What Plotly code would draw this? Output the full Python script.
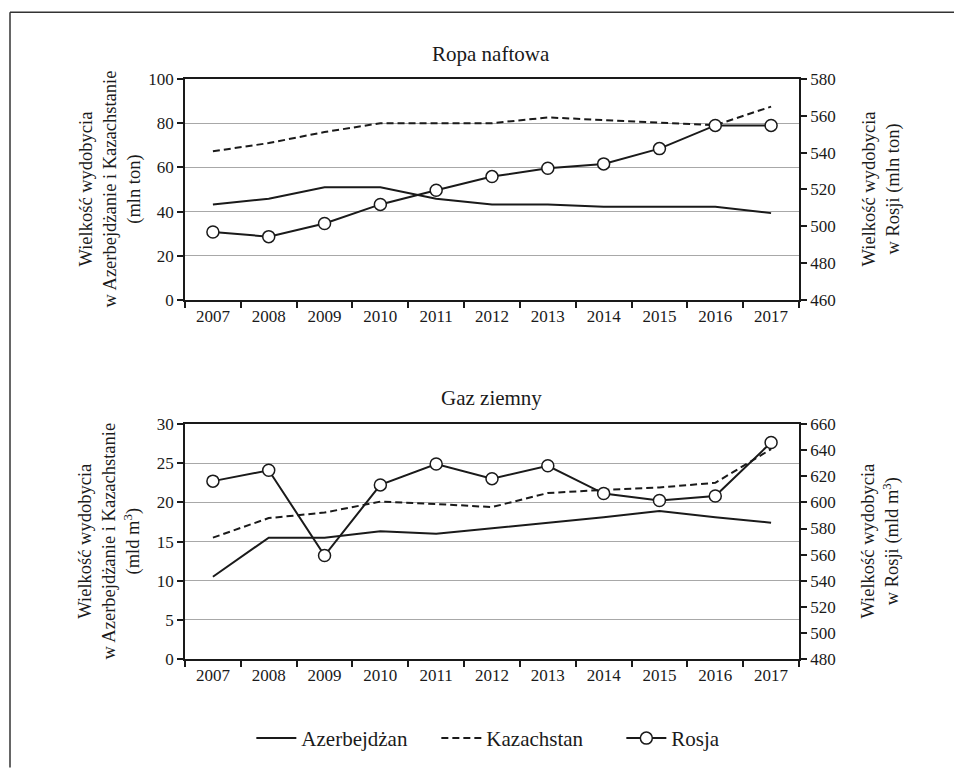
import plotly.graph_objects as go

years = ["2007", "2008", "2009", "2010", "2011", "2012", "2013", "2014", "2015", "2016", "2017"]

# Ropa naftowa (mln ton)
oil_aze = [43.2, 45.8, 51.0, 51.0, 45.8, 43.2, 43.2, 42.2, 42.2, 42.2, 39.3]
oil_kaz = [67.3, 71.0, 76.0, 80.0, 80.0, 80.0, 82.6, 81.5, 80.3, 79.1, 87.5]
oil_rus = [496.9, 494.4, 501.5, 511.9, 519.6, 527.0, 531.5, 533.9, 542.2, 554.8, 554.8]

# Gaz ziemny (mld m3)
gas_aze = [10.5, 15.5, 15.5, 16.3, 16.0, 16.7, 17.4, 18.1, 18.9, 18.1, 17.4]
gas_kaz = [15.5, 18.0, 18.7, 20.1, 19.8, 19.4, 21.2, 21.6, 21.9, 22.5, 26.8]
gas_rus = [616.3, 624.6, 559.3, 613.4, 629.4, 618.2, 628.1, 606.8, 601.5, 604.9, 645.9]

FONT = "Liberation Serif, Times New Roman, serif"
BLACK = "#1a1a1a"
LW = 2

fig = go.Figure()

def add_set(aze, kaz, rus, xa, yl, yr, show):
    fig.add_trace(go.Scatter(x=years, y=aze, xaxis=xa, yaxis=yl, mode="lines",
                             name="Azerbejdżan", line=dict(color=BLACK, width=LW),
                             showlegend=show, legendrank=1))
    fig.add_trace(go.Scatter(x=years, y=kaz, xaxis=xa, yaxis=yl, mode="lines",
                             name="Kazachstan", line=dict(color=BLACK, width=LW, dash="7px,4px"),
                             showlegend=show, legendrank=2))
    fig.add_trace(go.Scatter(x=years, y=rus, xaxis=xa, yaxis=yr, mode="lines+markers",
                             name="Rosja", line=dict(color=BLACK, width=LW),
                             marker=dict(symbol="circle", size=12, color="white",
                                         line=dict(color=BLACK, width=1.5)),
                             showlegend=show, legendrank=3))

add_set(oil_aze, oil_kaz, oil_rus, "x", "y", "y2", True)
add_set(gas_aze, gas_kaz, gas_rus, "x2", "y3", "y4", False)

tickfont = dict(family=FONT, size=17, color=BLACK)

xcommon = dict(type="category", tickson="boundaries", ticks="outside", ticklen=6,
               tickcolor=BLACK, tickwidth=1.5, showline=True, linecolor=BLACK, linewidth=1.5,
               mirror=True, showgrid=False, tickfont=tickfont, range=[-0.5, 10.5],
               fixedrange=True)
ycommon = dict(ticks="outside", ticklen=6, tickcolor=BLACK, tickwidth=1.5, showline=True,
               linecolor=BLACK, linewidth=1.5, tickfont=tickfont, zeroline=False)

TOP = [0.619, 1.0]
BOT = [0.0, 0.405]

fig.update_layout(
    width=954, height=771,
    margin=dict(l=185, r=155, t=79, b=109),
    paper_bgcolor="white", plot_bgcolor="white",
    font=dict(family=FONT, color=BLACK),
    xaxis=dict(**xcommon, domain=[0, 1], anchor="y"),
    yaxis=dict(**ycommon, domain=TOP, range=[0, 100], dtick=20, showgrid=True,
               gridcolor="#a8a8a8", gridwidth=1.2, anchor="x"),
    yaxis2=dict(**ycommon, domain=TOP, range=[460, 580], dtick=20, side="right",
                overlaying="y", showgrid=False, anchor="x"),
    xaxis2=dict(**xcommon, domain=[0, 1], anchor="y3"),
    yaxis3=dict(**ycommon, domain=BOT, range=[0, 30], dtick=5, showgrid=True,
                gridcolor="#a8a8a8", gridwidth=1.2, anchor="x2"),
    yaxis4=dict(**ycommon, domain=BOT, range=[480, 660], dtick=20, side="right",
                overlaying="y3", showgrid=False, anchor="x2"),
    legend=dict(orientation="h", x=0.56, xanchor="center", y=-0.137, yanchor="middle",
                font=dict(family=FONT, size=21, color=BLACK), itemwidth=40,
                entrywidth=130, tracegroupgap=0, bgcolor="rgba(0,0,0,0)"),
    showlegend=True,
)

ann_font = dict(family=FONT, size=18.5, color=BLACK)
title_font = dict(family=FONT, size=21, color=BLACK)

def pxx(px):
    return (px - 185) / 614

def pxy(py):
    return (662 - py) / 583

annotations = [
    dict(text="Ropa naftowa", x=pxx(491), y=pxy(54), font=title_font),
    dict(text="Gaz ziemny", x=pxx(491), y=pxy(400), font=title_font),
    dict(text="Wielkość wydobycia<br>w Azerbejdżanie i Kazachstanie<br>(mln ton)",
         x=pxx(110), y=pxy(190), textangle=-90, font=ann_font),
    dict(text="Wielkość wydobycia<br>w Rosji (mln ton)",
         x=pxx(881), y=pxy(190), textangle=-90, font=ann_font),
    dict(text="Wielkość wydobycia<br>w Azerbejdżanie i Kazachstanie<br>(mld m<sup>3</sup>)",
         x=pxx(110), y=pxy(544), textangle=-90, font=ann_font),
    dict(text="Wielkość wydobycia<br>w Rosji (mld m<sup>3</sup>)",
         x=pxx(881), y=pxy(544), textangle=-90, font=ann_font),
]
for a in annotations:
    a.update(xref="paper", yref="paper", xanchor="center", yanchor="middle",
             showarrow=False)
fig.update_layout(annotations=annotations)

# outer frame (open on the right and bottom, as in the scan)
fig.add_shape(type="line", xref="paper", yref="paper",
              x0=pxx(10), x1=pxx(954), y0=pxy(12), y1=pxy(12),
              line=dict(color="#333333", width=1.5))
fig.add_shape(type="line", xref="paper", yref="paper",
              x0=pxx(10), x1=pxx(10), y0=pxy(12), y1=pxy(771),
              line=dict(color="#333333", width=1.5))

fig.write_html("out.html", config={"displayModeBar": False},
               post_script="document.body.style.margin='0';document.body.style.overflow='hidden';")
